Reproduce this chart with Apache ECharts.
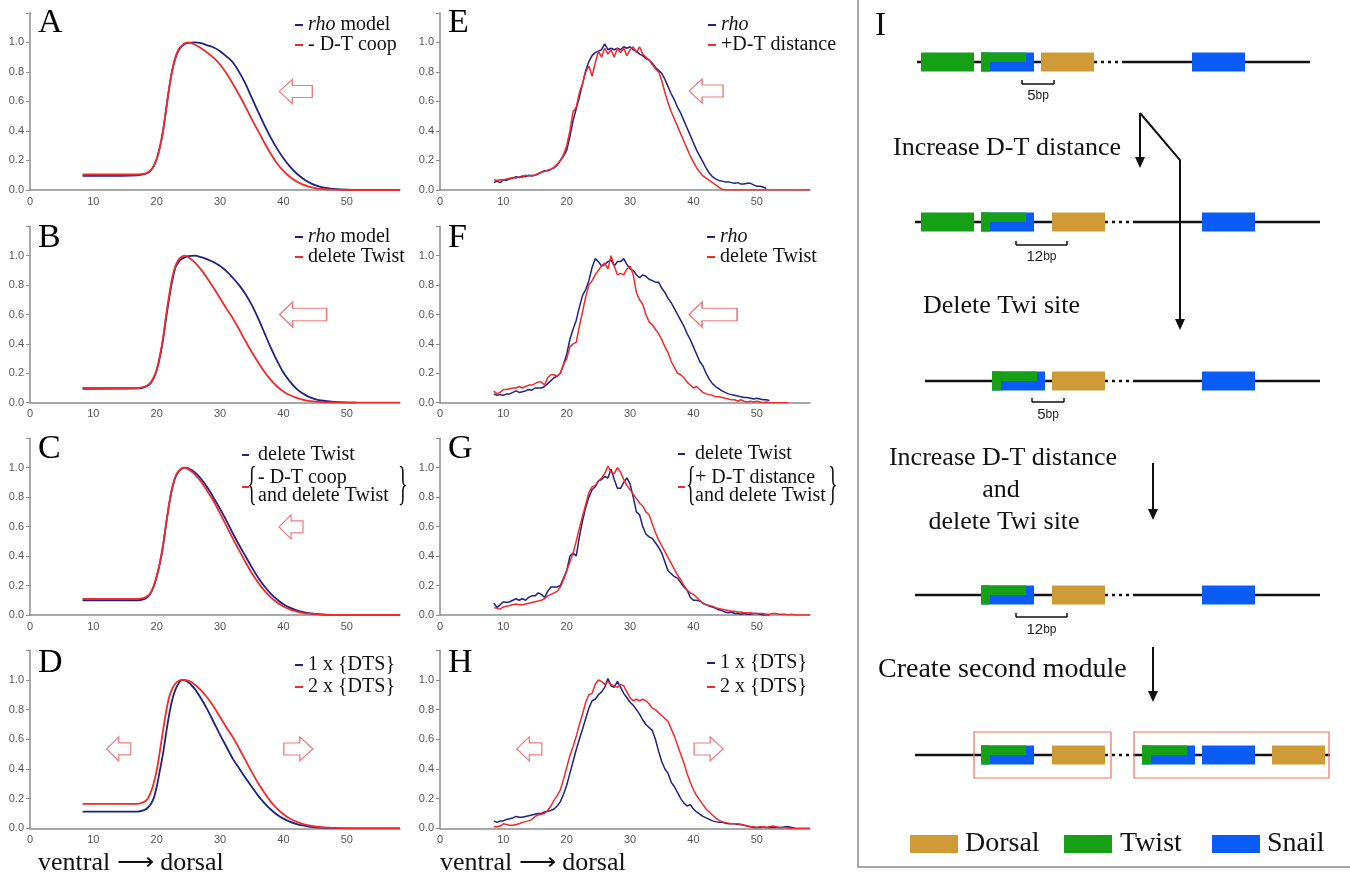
<!DOCTYPE html>
<html><head><meta charset="utf-8">
<script src="https://cdn.jsdelivr.net/npm/echarts@6/dist/echarts.min.js"></script>
<style>html,body{margin:0;padding:0;background:#fff}#c{width:1350px;height:882px}</style>
</head><body><div id="c"></div>
<script>
// ---------------- DATA ----------------
const xTicks = [0, 10, 20, 30, 40, 50];
const yTicks = [0.0, 0.2, 0.4, 0.6, 0.8, 1.0];
const X_MAX = 58.4;

// model curves (A-D): [x, y]
const A_rho = [[8.3,0.095],[12,0.095],[17,0.1],[18,0.107],[18.5,0.115],[19,0.13],[19.5,0.16],[20,0.21],[20.5,0.29],[21,0.4],[21.5,0.55],[22,0.7],[22.5,0.82],[23,0.9],[23.5,0.95],[24,0.975],[24.5,0.99],[25,0.997],[26,1.0],[27,0.995],[28,0.98],[29,0.965],[30,0.94],[31,0.905],[32,0.865],[33,0.8],[34,0.72],[35,0.625],[36,0.53],[37,0.44],[38,0.355],[39,0.28],[40,0.215],[41,0.16],[42,0.115],[43,0.08],[44,0.053],[45,0.033],[46,0.02],[47,0.012],[48,0.007],[50,0.002],[52,0],[58.4,0]];
const A_coop = [[8.3,0.105],[17,0.105],[18,0.11],[18.5,0.117],[19,0.132],[19.5,0.16],[20,0.21],[20.5,0.29],[21,0.4],[21.5,0.55],[22,0.7],[22.5,0.82],[23,0.905],[23.5,0.955],[24,0.98],[24.5,0.995],[25,1.0],[26,0.985],[27,0.96],[28,0.93],[29,0.895],[30,0.85],[31,0.79],[32,0.72],[33,0.645],[34,0.565],[35,0.48],[36,0.4],[37,0.32],[38,0.245],[39,0.18],[40,0.13],[41,0.09],[42,0.06],[43,0.038],[44,0.023],[45,0.013],[46,0.007],[48,0.002],[50,0],[58.4,0]];
const B_rho = [[8.3,0.095],[17,0.097],[18,0.105],[18.5,0.115],[19,0.13],[19.5,0.165],[20,0.22],[20.5,0.31],[21,0.43],[21.5,0.58],[22,0.72],[22.5,0.84],[23,0.925],[23.5,0.96],[24,0.98],[25,0.997],[26,1.0],[27,0.99],[28,0.975],[29,0.955],[30,0.93],[31,0.895],[32,0.85],[33,0.8],[34,0.74],[35,0.665],[36,0.575],[37,0.475],[38,0.375],[39,0.285],[40,0.205],[41,0.145],[42,0.098],[43,0.064],[44,0.04],[45,0.025],[46,0.015],[48,0.006],[50,0.002],[51.5,0]];
const B_delTwi = [[8.3,0.1],[17,0.1],[18,0.107],[18.5,0.117],[19,0.135],[19.5,0.17],[20,0.225],[20.5,0.32],[21,0.44],[21.5,0.6],[22,0.74],[22.5,0.86],[23,0.935],[23.5,0.975],[24,0.995],[24.5,1.0],[25,0.99],[26,0.955],[27,0.905],[28,0.845],[29,0.78],[30,0.71],[31,0.64],[32,0.575],[33,0.5],[34,0.42],[35,0.345],[36,0.275],[37,0.21],[38,0.155],[39,0.11],[40,0.077],[41,0.052],[42,0.034],[43,0.021],[44,0.013],[46,0.004],[48,0.001],[50,0],[58.4,0]];
const C_delTwi = [[8.3,0.1],[17,0.1],[18,0.108],[18.5,0.12],[19,0.145],[19.5,0.19],[20,0.26],[20.5,0.35],[21,0.47],[21.5,0.62],[22,0.76],[22.5,0.87],[23,0.94],[23.5,0.975],[24,0.995],[24.5,1.0],[25,0.995],[26,0.97],[27,0.925],[28,0.865],[29,0.795],[30,0.72],[31,0.64],[32,0.555],[33,0.475],[34,0.4],[35,0.325],[36,0.255],[37,0.195],[38,0.145],[39,0.105],[40,0.073],[41,0.05],[42,0.033],[43,0.021],[44,0.013],[46,0.004],[48,0.001],[50,0],[58.4,0]];
const C_coopDel = [[8.3,0.11],[17,0.11],[18,0.117],[18.5,0.127],[19,0.15],[19.5,0.195],[20,0.265],[20.5,0.355],[21,0.475],[21.5,0.625],[22,0.765],[22.5,0.875],[23,0.945],[23.5,0.98],[24,0.997],[24.3,1.0],[25,0.99],[26,0.955],[27,0.905],[28,0.84],[29,0.77],[30,0.69],[31,0.605],[32,0.52],[33,0.44],[34,0.36],[35,0.285],[36,0.22],[37,0.165],[38,0.12],[39,0.085],[40,0.058],[41,0.038],[42,0.024],[43,0.015],[44,0.009],[46,0.003],[48,0],[58.4,0]];
const D_1x = [[8.3,0.112],[17,0.112],[18,0.122],[18.5,0.135],[19,0.158],[19.5,0.2],[20,0.28],[20.5,0.39],[21,0.505],[21.5,0.645],[22,0.775],[22.5,0.875],[23,0.94],[23.5,0.98],[24,1.0],[25,0.985],[26,0.94],[27,0.875],[28,0.8],[29,0.715],[30,0.63],[31,0.55],[32,0.47],[33,0.405],[34,0.34],[35,0.28],[36,0.22],[37,0.17],[38,0.127],[39,0.092],[40,0.065],[41,0.045],[42,0.03],[43,0.019],[44,0.012],[46,0.004],[48,0.001],[50,0],[58.4,0]];
const D_2x = [[8.3,0.165],[17,0.165],[18,0.178],[18.5,0.195],[19,0.235],[19.5,0.3],[20,0.39],[20.5,0.52],[21,0.66],[21.5,0.79],[22,0.89],[22.5,0.945],[23,0.978],[23.5,0.995],[24,1.0],[25,0.995],[26,0.97],[27,0.93],[28,0.88],[29,0.82],[30,0.75],[31,0.68],[32,0.615],[33,0.54],[34,0.46],[35,0.38],[36,0.305],[37,0.24],[38,0.18],[39,0.132],[40,0.095],[41,0.066],[42,0.045],[43,0.03],[44,0.019],[46,0.008],[48,0.003],[50,0],[58.4,0]];

// measured profiles (E-H): y values at x = 8.5, 9.0, 9.5, ... (rows of 10 = 5 units)
const NOISY_X0 = 8.5, NOISY_STEP = 0.5;
const E_rho = [
  .05,.06,.05,.07,.065,.075,.08,.09,.085,.095,
  .09,.1,.095,.1,.11,.12,.13,.13,.14,.15,
  .17,.2,.23,.27,.36,.47,.55,.63,.72,.81,
  .87,.91,.93,.94,.95,.99,.95,.96,.95,.96,
  .95,.97,.96,.97,.95,.94,.92,.91,.89,.88,
  .86,.83,.81,.79,.75,.7,.65,.61,.56,.52,
  .47,.42,.37,.32,.27,.23,.19,.15,.115,.09,
  .075,.065,.06,.055,.055,.05,.045,.05,.04,.04,
  .045,.045,.035,.025,.025,.02,.01];
const E_dist = [
  .07,.065,.07,.07,.075,.08,.085,.08,.09,.085,
  .1,.095,.1,.1,.11,.12,.125,.135,.14,.155,
  .175,.2,.24,.3,.4,.53,.56,.66,.72,.8,
  .84,.77,.86,.94,.9,.96,.92,.95,.9,.96,
  .93,.96,.91,.95,.97,.93,.97,.92,.9,.88,
  .85,.82,.8,.74,.66,.59,.53,.48,.43,.38,
  .33,.28,.23,.19,.15,.12,.095,.08,.065,.05,
  .035,.02,.005,0,0,0,0,0,0,0];
const F_rho = [
  .06,.05,.055,.05,.06,.06,.07,.08,.07,.075,
  .08,.09,.085,.1,.1,.1,.11,.13,.15,.17,
  .18,.2,.26,.33,.43,.5,.56,.65,.73,.77,
  .83,.92,.98,.96,.93,.94,.96,.97,.93,.96,
  .96,.98,.94,.91,.9,.87,.85,.87,.86,.84,
  .83,.82,.82,.78,.75,.71,.68,.64,.6,.56,
  .52,.47,.43,.38,.33,.28,.25,.2,.16,.13,
  .11,.095,.08,.07,.06,.055,.05,.045,.04,.035,
  .035,.03,.025,.03,.025,.02,.02,.015];
const F_del = [
  .08,.06,.07,.09,.09,.095,.1,.1,.11,.1,
  .11,.12,.12,.13,.14,.14,.12,.17,.19,.19,
  .18,.2,.26,.3,.38,.4,.41,.52,.62,.72,
  .8,.83,.87,.9,.93,.95,.91,1.0,.93,.87,
  .88,.87,.91,.93,.87,.75,.7,.67,.6,.55,
  .53,.5,.47,.43,.38,.34,.28,.24,.2,.19,
  .17,.14,.12,.1,.11,.09,.07,.06,.055,.05,
  .04,.04,.035,.03,.025,.02,.02,.01,.02,.01,
  .005,.01,.005,.01,.005,0,.005,0,0,0,
  0,0,0,0];
const G_del = [
  .08,.05,.07,.09,.085,.09,.1,.11,.1,.11,
  .1,.12,.13,.13,.15,.14,.12,.16,.19,.19,
  .19,.2,.25,.3,.4,.42,.4,.53,.64,.73,
  .8,.85,.87,.91,.92,.94,.93,.99,.92,.86,
  .86,.9,.93,.89,.8,.7,.68,.6,.55,.53,
  .52,.49,.46,.42,.36,.3,.28,.26,.25,.22,
  .19,.17,.12,.1,.1,.095,.08,.07,.06,.055,
  .045,.035,.03,.02,.015,.02,.01,.01,.005,.01,
  .005,.005,.01,.01,.005,0,0,0];
const G_distDel = [
  .05,.045,.04,.055,.06,.065,.07,.075,.07,.07,
  .075,.08,.085,.09,.095,.1,.11,.13,.14,.15,
  .16,.19,.24,.3,.36,.42,.5,.59,.67,.75,
  .83,.87,.88,.91,.93,.96,1.01,.97,.96,1.0,
  .97,.92,.88,.85,.82,.79,.76,.74,.7,.68,
  .62,.56,.51,.47,.43,.39,.35,.31,.27,.24,
  .2,.17,.15,.14,.12,.1,.08,.07,.065,.06,
  .05,.045,.04,.035,.03,.025,.025,.02,.02,.015,
  .015,.015,.01,.01,.01,.01,.005,.005,.01,.01,
  .005,.005,.005,0,.005,0];
const H_1x = [
  .05,.04,.05,.05,.06,.065,.07,.08,.075,.075,
  .08,.085,.09,.095,.1,.1,.11,.115,.12,.13,
  .15,.18,.23,.29,.37,.45,.53,.6,.67,.74,
  .81,.86,.87,.9,.92,.95,1.01,.96,.95,.99,
  .95,.91,.88,.85,.83,.8,.77,.73,.7,.68,
  .66,.6,.52,.45,.4,.37,.31,.28,.24,.2,
  .17,.15,.16,.13,.11,.095,.08,.07,.06,.05,
  .045,.04,.04,.035,.03,.03,.03,.025,.025,.02,
  .015,.01,.005,.005,.005,.01,.005,.005,.005,.005,
  .005,.005,.01,.01,.005,0];
const H_2x = [
  .01,.01,.015,.03,.025,.02,.02,.025,.03,.04,
  .045,.05,.06,.08,.09,.095,.1,.12,.15,.19,
  .22,.26,.33,.41,.49,.55,.62,.7,.77,.85,
  .9,.91,.97,1.0,.99,.97,.99,.97,.96,.95,
  .97,.96,.92,.88,.86,.87,.86,.87,.86,.84,
  .81,.8,.78,.76,.74,.72,.67,.62,.56,.5,
  .44,.37,.31,.26,.22,.19,.16,.13,.11,.09,
  .07,.055,.045,.04,.035,.03,.03,.03,.025,.02,
  .015,.01,.01,.005,.01,.01,.005,.01,.015,.01,
  .005,.005,.005,0];

// hollow shift arrows: [x, y, direction]
const arrowsA = [[41.95, 0.667, 'L']];
const arrowsB = [[43.1, 0.6, 'L']];
const arrowsC = [[41.2, 0.598, 'L']];
const arrowsD = [[14.0, 0.535, 'L'], [42.35, 0.535, 'R']];
const arrowsE = [[42.0, 0.67, 'L']];
const arrowsF = [[43.1, 0.6, 'L']];
const arrowsG = [];
const arrowsH = [[14.1, 0.535, 'L'], [42.4, 0.535, 'R']];

// legend labels
const labels = {
  A1: '{i|rho} model', A2: '- D-T coop',
  B1: '{i|rho} model', B2: 'delete Twist',
  C1: 'delete Twist', C2: '- D-T coop\nand delete Twist',
  D1: '1 x {DTS}', D2: '2 x {DTS}',
  E1: '{i|rho}', E2: '+D-T distance',
  F1: '{i|rho}', F2: 'delete Twist',
  G1: 'delete Twist', G2: '+ D-T distance \nand delete Twist',
  H1: '1 x {DTS}', H2: '2 x {DTS}'
};

// ---------------- STYLE / LAYOUT ----------------
const BLUE = '#1d2286', RED = '#f22a2a', AXIS = '#8c8c8c', ARROW = '#f07c7c';
const SERIF = '"Liberation Serif","Times New Roman",serif';
const GRID_TOP = [12.8, 226.3, 438.2, 650.3];
const GRID_H = [177.2, 176.4, 176.8, 178];
const GRID_LEFT = [30, 440];
const GRID_W = 370;
const LETTER_TOP = [6, 221, 432, 646];

function pairsNoisy(vals, extendTo) {
  const out = vals.map((y, i) => [NOISY_X0 + i * NOISY_STEP, y]);
  if (extendTo) out.push([extendTo, 0]);
  return out;
}
function arrowPath(w, h, dir) {
  const hw = Math.min(13, w * 0.5), t1 = h * 0.25, t2 = h * 0.75;
  let pts = [[0, h / 2], [hw, 0], [hw, t1], [w, t1], [w, t2], [hw, t2], [hw, h]];
  if (dir === 'R') pts = pts.map(p => [w - p[0], p[1]]);
  return 'path://M' + pts.map(p => p[0].toFixed(1) + ',' + p[1].toFixed(1)).join(' L') + ' Z';
}

// leg: [left, top, itemGap, iconWidth, textPadLeft]
const panels = [
  {id:'A', col:0, row:0, model:true,  s:[['A1', A_rho, BLUE], ['A2', A_coop, RED]], arrows:arrowsA, sizes:[[33,24]], leg:[295,15,0,8,0]},
  {id:'B', col:0, row:1, model:true,  s:[['B1', B_rho, BLUE], ['B2', B_delTwi, RED]], arrows:arrowsB, sizes:[[47,25]], leg:[295,227,0,8,0]},
  {id:'C', col:0, row:2, model:true,  s:[['C1', C_delTwi, BLUE], ['C2', C_coopDel, RED]], arrows:arrowsC, sizes:[[24,24]], leg:[242,445,3,7,4]},
  {id:'D', col:0, row:3, model:true,  s:[['D1', D_1x, BLUE], ['D2', D_2x, RED]], arrows:arrowsD, sizes:[[24,24],[29,24]], leg:[295,655,2,8,0]},
  {id:'E', col:1, row:0, model:false, s:[['E1', pairsNoisy(E_rho), BLUE], ['E2', pairsNoisy(E_dist, X_MAX), RED]], arrows:arrowsE, sizes:[[34,24]], leg:[708,15,0,8,0]},
  {id:'F', col:1, row:1, model:false, s:[['F1', pairsNoisy(F_rho), BLUE], ['F2', pairsNoisy(F_del), RED]], arrows:arrowsF, sizes:[[48,25]], leg:[707,227,0,8,0]},
  {id:'G', col:1, row:2, model:false, s:[['G1', pairsNoisy(G_del), BLUE], ['G2', pairsNoisy(G_distDel, X_MAX), RED]], arrows:arrowsG, sizes:[], leg:[678,444,4,7,5]},
  {id:'H', col:1, row:3, model:false, s:[['H1', pairsNoisy(H_1x), BLUE], ['H2', pairsNoisy(H_2x, X_MAX), RED]], arrows:arrowsH, sizes:[[25,24],[29,24]], leg:[707,653,4,8,0]}
];

const grid = [], xAxis = [], yAxis = [], series = [], legend = [], title = [];
panels.forEach((p, i) => {
  grid.push({left: GRID_LEFT[p.col], top: GRID_TOP[p.row], width: GRID_W, height: GRID_H[p.row]});
  xAxis.push({type:'value', gridIndex:i, min:0, max:X_MAX, interval:10,
    axisLine:{show:true, onZero:false, lineStyle:{color:AXIS, width:1.5}},
    axisTick:{show:false}, splitLine:{show:false},
    axisLabel:{color:'#555', fontSize:11, fontFamily:'"Liberation Sans",Arial,sans-serif', margin:6,
      formatter: v => xTicks.some(t => Math.abs(t - v) < 1e-6) ? String(Math.round(v)) : ''}});
  yAxis.push({type:'value', gridIndex:i, min:0, max:1.2, interval:0.2,
    axisLine:{show:true, lineStyle:{color:AXIS, width:1.5}},
    axisTick:{show:true, length:4, lineStyle:{color:AXIS}}, splitLine:{show:false},
    axisLabel:{color:'#555', fontSize:11, fontFamily:'"Liberation Sans",Arial,sans-serif', margin:6,
      formatter: v => yTicks.some(t => Math.abs(t - v) < 1e-6) ? v.toFixed(1) : ''}});
  p.s.forEach((s, k) => {
    const ser = {type:'line', name:s[0], xAxisIndex:i, yAxisIndex:i, data:s[1], color:s[2],
      showSymbol:false, symbol:'none', smooth: p.model ? 0.3 : false, silent:true, animation:false,
      lineStyle:{width: p.model ? 1.8 : 1.5, color:s[2]}, itemStyle:{color:s[2]}, z: 2 + k};
    if (k === 1 && p.arrows.length) {
      ser.markPoint = {silent:true, animation:false, symbolKeepAspect:false, label:{show:false},
        itemStyle:{color:'#ffffff', borderColor:ARROW, borderWidth:1.2},
        data: p.arrows.map((a, j) => ({coord:[a[0], a[1]], symbol: arrowPath(p.sizes[j][0], p.sizes[j][1], a[2]), symbolSize: p.sizes[j]}))};
    }
    series.push(ser);
  });
  const multi = p.id === 'C' || p.id === 'G';
  legend.push({orient:'vertical', left:p.leg[0], top:p.leg[1], itemGap:p.leg[2], padding:0,
    icon:'rect', itemWidth:p.leg[3], itemHeight:2, selectedMode:false,
    data: p.s.map(s => s[0]),
    formatter: name => labels[name],
    textStyle:{fontFamily:SERIF, fontSize:20, color:'#111', lineHeight: multi ? 18 : 20, padding:[0,0,0,p.leg[4]],
      rich:{i:{fontFamily:SERIF, fontSize:20, fontStyle:'italic', color:'#111', lineHeight: 20}}}});
  title.push({text:p.id, left: GRID_LEFT[p.col] + 8, top: LETTER_TOP[p.row], padding:0,
    textStyle:{fontFamily:SERIF, fontSize:34, fontWeight:'normal', color:'#000'}});
});

// ---------------- graphics: braces, axis caption, panel I ----------------
const g = [];
function txt(text, x, y, size, align, extra) {
  g.push(Object.assign({type:'text', x:x, y:y, silent:true, z:10,
    style:{text:text, font: size + 'px ' + SERIF, fill:'#111', align:align || 'left', verticalAlign:'middle'}}, extra || {}));
}
// braces around two-line legend entries
[[247, 398, 487], [686, 828, 487]].forEach(b => {
  txt('{', b[0], b[2], 40, 'left', {scaleX:0.5, scaleY:1.15});
  txt('}', b[1], b[2], 40, 'left', {scaleX:0.5, scaleY:1.15});
});
txt('ventral \u27F6 dorsal', 38, 863, 26, 'left');
txt('ventral \u27F6 dorsal', 440, 863, 26, 'left');

// panel I
const SITE = {D:'#cf9b36', T:'#16a015', S:'#0b5cf6'};
const BW = 53, BH = 19;
const diagramRows = [
  {y:62,  line:[917,1310], dots:[1094,1124], sites:[['T',921],['TS',981],['D',1041],['S',1192]], br:[1022,1054,84,96,'5']},
  {y:222, line:[915,1320], dots:[1105,1133], sites:[['T',921],['TS',981],['D',1052],['S',1202]], br:[1016,1067,245,257,'12']},
  {y:381, line:[925,1320], dots:[1105,1133], sites:[['TS',992],['D',1052],['S',1202]], br:[1032,1064,402,415,'5']},
  {y:595, line:[915,1320], dots:[1105,1133], sites:[['TS',981],['D',1052],['S',1202]], br:[1016,1067,617,630,'12']},
  {y:755, line:[915,1330], dots:[1105,1133], sites:[['TS',981],['D',1052],['TS',1142],['S',1202],['D',1272]], frames:[[974,732,137,46],[1134,732,195,46]]}
];
function rect(x, y, w, h, fill, z) { g.push({type:'rect', silent:true, z:z || 6, shape:{x:x, y:y, width:w, height:h}, style:{fill:fill}}); }
function line(x1, y1, x2, y2, w, dash, color) {
  g.push({type:'line', silent:true, z:5, shape:{x1:x1, y1:y1, x2:x2, y2:y2},
    style:{stroke: color || '#111', lineWidth:w, lineDash: dash || null}});
}
diagramRows.forEach(r => {
  line(r.line[0], r.y, r.dots[0], r.y, 2.5);
  line(r.dots[0], r.y, r.dots[1], r.y, 2.5, [3, 4]);
  line(r.dots[1], r.y, r.line[1], r.y, 2.5);
  r.sites.forEach(s => {
    const x = s[1], top = r.y - BH / 2;
    if (s[0] === 'TS') {
      rect(x, top, BW, BH, SITE.S);
      rect(x, top, 45, BH / 2, SITE.T, 7);
      rect(x, top, 9, BH, SITE.T, 7);
    } else rect(x, top, BW, BH, SITE[s[0]]);
  });
  if (r.br) {
    const b = r.br;
    line(b[0], b[2], b[1], b[2], 1.5);
    line(b[0], b[2] - 4, b[0], b[2], 1.5);
    line(b[1], b[2] - 4, b[1], b[2], 1.5);
    g.push({type:'text', silent:true, z:10, x:(b[0] + b[1]) / 2, y:b[3],
      style:{text:'{a|' + b[4] + '}{b|bp}', align:'center', verticalAlign:'middle', fill:'#222',
        rich:{a:{fontSize:15, fontFamily:'"Liberation Sans",Arial,sans-serif', fill:'#222'},
              b:{fontSize:12, fontFamily:'"Liberation Sans",Arial,sans-serif', fill:'#222'}}}});
  }
  (r.frames || []).forEach(f => g.push({type:'rect', silent:true, z:8, shape:{x:f[0], y:f[1], width:f[2], height:f[3]},
    style:{fill:'none', stroke:'#f0705c', lineWidth:1.2}}));
});
// flow arrows
const flowArrows = [
  [[1140,113],[1140,168]],
  [[1140,113],[1180,160],[1180,330]],
  [[1153,463],[1153,520]],
  [[1153,647],[1153,702]]
];
flowArrows.forEach(pts => {
  const end = pts[pts.length - 1];
  const body = pts.slice(0, -1).concat([[end[0], end[1] - 8]]);
  g.push({type:'polyline', silent:true, z:9, shape:{points:body}, style:{stroke:'#111', lineWidth:2, fill:null}});
  g.push({type:'polygon', silent:true, z:9, shape:{points:[[end[0]-5, end[1]-11],[end[0]+5, end[1]-11],[end[0], end[1]]]}, style:{fill:'#111'}});
});
// panel I texts
txt('I', 875, 26, 33, 'left');
txt('Increase D-T distance', 893, 148, 26, 'left');
txt('Delete Twi site', 923, 306, 26, 'left');
txt('Increase D-T distance', 1003, 458, 26, 'center');
txt('and', 1001, 490, 26, 'center');
txt('delete Twi site', 1004, 522, 26, 'center');
txt('Create second module', 878, 670, 28, 'left');
// key
[['D', 910, 'Dorsal', 965], ['T', 1064, 'Twist', 1120], ['S', 1212, 'Snail', 1267]].forEach(k => {
  rect(k[1], 835, 48, 18, SITE[k[0]]);
  txt(k[2], k[3], 843.5, 28, 'left');
});
// frame of panel I
g.push({type:'rect', silent:true, z:4, shape:{x:858, y:-5, width:500, height:872}, style:{fill:'none', stroke:'#8a8a8a', lineWidth:1.5}});

const chart = echarts.init(document.getElementById('c'));
chart.setOption({animation:false, backgroundColor:'#ffffff', title, grid, xAxis, yAxis, series, legend, graphic:{elements:g}});
</script>
</body></html>
